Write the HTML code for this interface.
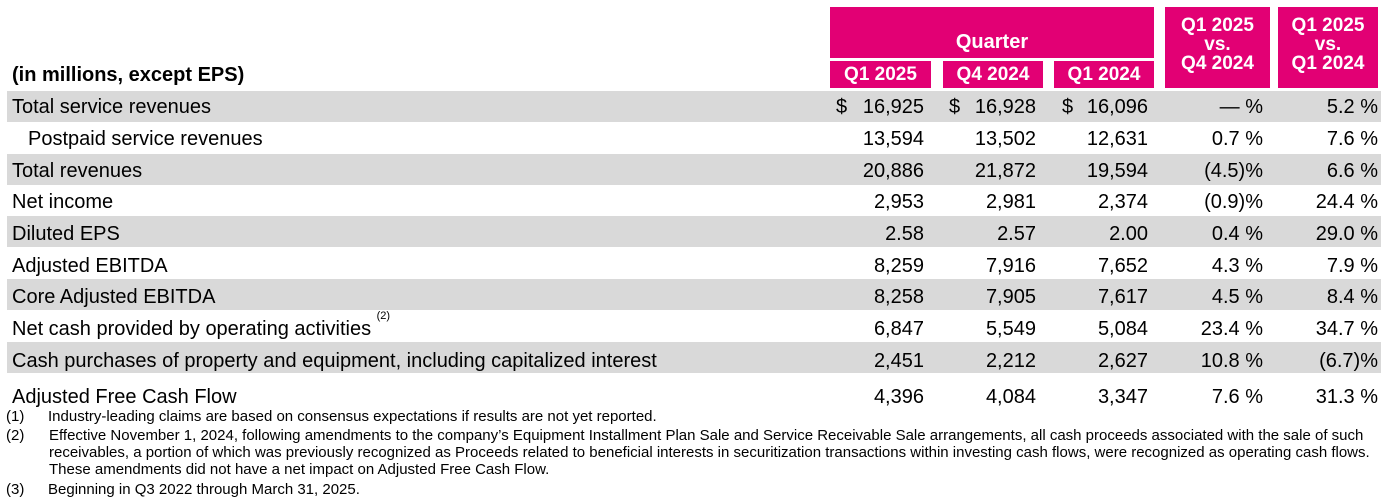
<!DOCTYPE html><html><head><style>
body{margin:0;width:1384px;height:502px;background:#fff;position:relative;overflow:hidden;font-family:"Liberation Sans",Arial,sans-serif;color:#000}
.m{position:absolute;background:#e20074;color:#fff;font-weight:bold;text-align:center}
.g{position:absolute;left:7px;width:1374px;background:#d9d9d9}
.t{position:absolute;font-size:20px;line-height:22px;white-space:nowrap}
.r{text-align:right}
.f{position:absolute;left:6px;font-size:15px;line-height:17px;white-space:nowrap}
sup{font-size:11px;line-height:0;position:relative;top:-2px;vertical-align:top}
</style></head><body>
<div class="m" style="left:830px;top:7px;width:324px;height:51px;font-size:20px;line-height:70px">Quarter</div>
<div class="m" style="left:830px;top:61px;width:101px;height:27px;font-size:19px;line-height:27px">Q1 2025</div>
<div class="m" style="left:943px;top:61px;width:100px;height:27px;font-size:19px;line-height:27px">Q4 2024</div>
<div class="m" style="left:1054px;top:61px;width:100px;height:27px;font-size:19px;line-height:27px">Q1 2024</div>
<div class="m" style="left:1165px;top:7px;width:105px;height:81px;font-size:19px;line-height:19px"><div style="padding-top:9px">Q1 2025<br>vs.<br>Q4 2024</div></div>
<div class="m" style="left:1278px;top:7px;width:100px;height:81px;font-size:19px;line-height:19px"><div style="padding-top:9px">Q1 2025<br>vs.<br>Q1 2024</div></div>
<div class="t" style="left:12px;top:64px;font-weight:bold">(in millions, except EPS)</div>
<div class="g" style="top:91px;height:31px"></div>
<div class="g" style="top:154px;height:31px"></div>
<div class="g" style="top:216px;height:31px"></div>
<div class="g" style="top:279px;height:31px"></div>
<div class="g" style="top:342px;height:31px"></div>
<div id="rows"></div>
<script>
var d=[
["Total service revenues","16,925","16,928","16,096","— %","5.2 %",1],
["Postpaid service revenues","13,594","13,502","12,631","0.7 %","7.6 %",0,1],
["Total revenues","20,886","21,872","19,594","(4.5)%","6.6 %"],
["Net income","2,953","2,981","2,374","(0.9)%","24.4 %"],
["Diluted EPS","2.58","2.57","2.00","0.4 %","29.0 %"],
["Adjusted EBITDA","8,259","7,916","7,652","4.3 %","7.9 %"],
["Core Adjusted EBITDA","8,258","7,905","7,617","4.5 %","8.4 %"],
["Net cash provided by operating activities <sup>(2)</sup>","6,847","5,549","5,084","23.4 %","34.7 %"],
["Cash purchases of property and equipment, including capitalized interest","2,451","2,212","2,627","10.8 %","(6.7)%"],
["Adjusted Free Cash Flow","4,396","4,084","3,347","7.6 %","31.3 %"]];
var tops=[96,128,160,191,223,255,286,318,350,386],rt=[924,1036,1148,1263,1378],h="";
d.forEach(function(r,i){var y=tops[i];
h+='<div class="t" style="left:'+(r[7]?28:12)+'px;top:'+y+'px">'+r[0]+'</div>';
for(var k=0;k<5;k++)h+='<div class="t r" style="left:'+(rt[k]-150)+'px;width:150px;top:'+y+'px">'+r[k+1]+'</div>';
if(r[6])[836,949,1062].forEach(function(x){h+='<div class="t" style="left:'+x+'px;top:'+y+'px">$</div>'});
});
document.getElementById('rows').innerHTML=h;
</script>
<div class="f" style="top:408px">(1)<span style="position:absolute;left:42px">Industry-leading claims are based on consensus expectations if results are not yet reported.</span></div>
<div class="f" style="top:427px">(2)<span style="position:absolute;left:43px">Effective November 1, 2024, following amendments to the company’s Equipment Installment Plan Sale and Service Receivable Sale arrangements, all cash proceeds associated with the sale of such</span></div>
<div class="f" style="top:444px;left:49px">receivables, a portion of which was previously recognized as Proceeds related to beneficial interests in securitization transactions within investing cash flows, were recognized as operating cash flows.</div>
<div class="f" style="top:461px;left:49px">These amendments did not have a net impact on Adjusted Free Cash Flow.</div>
<div class="f" style="top:481px">(3)<span style="position:absolute;left:42px">Beginning in Q3 2022 through March 31, 2025.</span></div>
</body></html>
